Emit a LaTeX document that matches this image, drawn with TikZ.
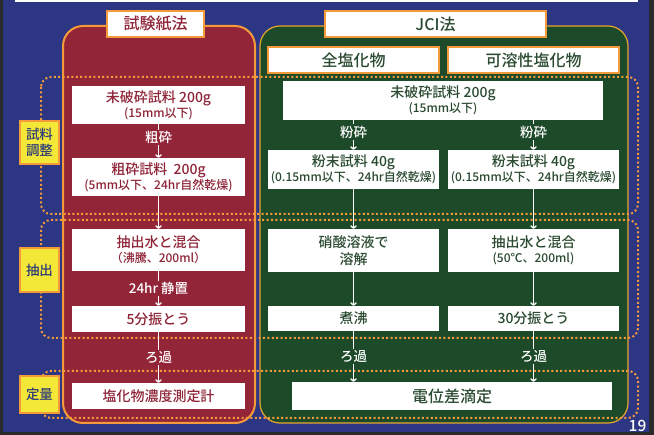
\documentclass[tikz,border=0pt]{standalone}
\usepackage{fontspec}
\setmainfont{Noto Sans CJK JP}[UprightFont=* Medium]
\usetikzlibrary{arrows.meta,positioning}

\definecolor{slideblue}{HTML}{2D3683}
\definecolor{slideframe}{HTML}{2A2A2A}
\definecolor{paperred}{HTML}{932539}
\definecolor{papertext}{HTML}{8E2437}
\definecolor{jcigreen}{HTML}{1D4A29}
\definecolor{jcitext}{HTML}{2A4A30}
\definecolor{dotorange}{HTML}{F49A3A}
\definecolor{goldline}{HTML}{E8A630}
\definecolor{tagyellow}{HTML}{F3E837}
\definecolor{tagnavy}{HTML}{2B3A7A}

\begin{document}
\begin{tikzpicture}[x=1pt, y=-1pt, >={To[length=3.5pt,width=6.5pt]}, font=\fontsize{14}{16}\selectfont,
  panel/.style = {rounded corners=20pt},
  band/.style = {draw=dotorange, line width=2pt, dash pattern=on 2pt off 2.4pt, rounded corners=10pt},
  head/.style = {draw=dotorange, line width=1.8pt, fill=white, inner sep=0pt, minimum height=26pt, font=\fontsize{16}{18}\selectfont},
  rbox/.style = {fill=white, inner sep=0pt, align=center, minimum width=173pt, text=papertext},
  gbox/.style = {fill=white, inner sep=0pt, align=center, minimum width=171pt, text=jcitext},
  tag/.style = {fill=tagyellow, draw=dotorange, line width=1.8pt, minimum width=39pt, inner sep=0pt, align=center, text=tagnavy, font=\fontsize{13.5}{16}\selectfont},
  flow/.style = {->, draw=white, line width=1.4pt},
  lbl/.style = {text=white, inner sep=1.5pt, font=\fontsize{13.5}{15}\selectfont}]
\useasboundingbox (0,0) rectangle (654,435);

% slide background
\fill[slideframe] (0,0) rectangle (654,435);
\fill[slideblue] (3,0) rectangle (649,432);
\fill[white] (15,0) rectangle (638,2.5);

% the two methods
\draw[panel, draw=dotorange, line width=2pt, fill=paperred] (63,26) rectangle (255,423);
\draw[panel, draw=goldline, line width=1.2pt, fill=jcigreen] (260,26) rectangle (628,423);

% stages
\draw[band] (41,77) rectangle (638,214);
\draw[band] (41,220) rectangle (638,338);
\draw[band] (41,371) rectangle (638,418);

% headings
\node[head, minimum width=97pt, text=papertext] (titleL) at (155.5,24) {試験紙法};
\node[head, minimum width=221pt, text=jcitext] (titleJ) at (435.5,24) {JCI法};
\node[head, minimum width=171pt, text=jcitext] (headT) at (353.5,60) {全塩化物};
\node[head, minimum width=171pt, text=jcitext] (headS) at (533.5,60) {可溶性塩化物};

% stage tags
\node[tag, minimum height=43pt] (tagPrep) at (39.5,142.5) {試料\\調整};
\node[tag, minimum height=44pt] (tagExtr) at (39.5,270) {抽出};
\node[tag, minimum height=37pt] (tagQuant) at (39.5,394.5) {定量};

% test paper method
\node[rbox, minimum height=38pt] (rawL) at (158.5,105) {未破砕試料 200g\\[-1pt]{\fontsize{12}{14}\selectfont (15mm以下)}};
\node[rbox, minimum height=38pt] (crushL) at (158.5,177) {粗砕試料\ \ 200g\\[-1pt]{\fontsize{12}{14}\selectfont (5mm以下、24hr自然乾燥)}};
\node[rbox, minimum height=42pt] (extL) at (158.5,250) {抽出水と混合\\[-1pt]{\fontsize{12}{14}\selectfont （沸騰、200ml）}};
\node[rbox, minimum height=26pt] (shakeL) at (158.5,319) {5分振とう};
\node[rbox, minimum height=26pt] (measL) at (158.5,396) {塩化物濃度測定計};

\draw[flow] (rawL) -- node[lbl, fill=paperred, pos=0.4] {粗砕} (crushL);
\draw[flow] (crushL) -- (extL);
\draw[flow] (extL) -- node[lbl, fill=paperred] {24hr 静置} (shakeL);
\draw[flow] (shakeL) -- node[lbl, fill=paperred] {ろ過} (measL);

% JCI method
\node[gbox, minimum width=320pt, minimum height=39pt] (rawJ) at (443,100.5) {未破砕試料 200g\\[-1pt]{\fontsize{12}{14}\selectfont (15mm以下)}};
\node[gbox, minimum height=39pt] (powT) at (353.5,169.5) {粉末試料 40g\\[-1pt]{\fontsize{12}{14}\selectfont (0.15mm以下、24hr自然乾燥)}};
\node[gbox, minimum height=39pt] (powS) at (533.5,169.5) {粉末試料 40g\\[-1pt]{\fontsize{12}{14}\selectfont (0.15mm以下、24hr自然乾燥)}};
\node[gbox, minimum height=43pt] (acidT) at (353.5,250.5) {硝酸溶液で\\[1pt]溶解};
\node[gbox, minimum height=43pt] (extS) at (533.5,250.5) {抽出水と混合\\[-1pt]{\fontsize{12}{14}\selectfont (50℃、200ml)}};
\node[gbox, minimum height=25pt] (boilT) at (353.5,318.5) {煮沸};
\node[gbox, minimum height=25pt] (shakeS) at (533.5,318.5) {30分振とう};
\node[gbox, minimum width=320pt, minimum height=28pt, font=\fontsize{16}{18}\selectfont] (titr) at (452,396) {電位差滴定};

\draw[flow] (powT.north |- rawJ.south) -- node[lbl, fill=jcigreen, pos=0.4] {粉砕} (powT);
\draw[flow] (powS.north |- rawJ.south) -- node[lbl, fill=jcigreen, pos=0.4] {粉砕} (powS);
\draw[flow] (powT) -- (acidT);
\draw[flow] (powS) -- (extS);
\draw[flow] (acidT) -- (boilT);
\draw[flow] (extS) -- (shakeS);
\draw[flow] (boilT) -- node[lbl, fill=jcigreen] {ろ過} (boilT.south |- titr.north);
\draw[flow] (shakeS) -- node[lbl, fill=jcigreen] {ろ過} (shakeS.south |- titr.north);

% page number
\node[text=white, font=\fontsize{15.5}{18}\selectfont] (page) at (637.5,426) {19};
\end{tikzpicture}
\end{document}
